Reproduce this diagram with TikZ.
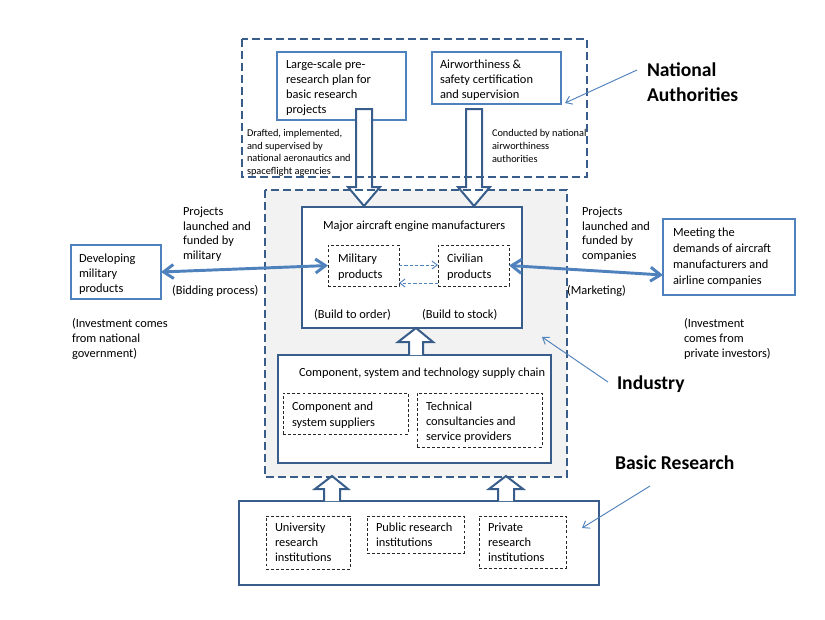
\documentclass[tikz,border=0pt]{standalone}
\usepackage{fontspec}
\setmainfont{Carlito}
\usetikzlibrary{arrows.meta}
\definecolor{mblue}{HTML}{4F81BD}
\definecolor{dblue}{HTML}{385D8A}
\definecolor{lgrey}{HTML}{F2F2F2}
\newcommand\fsk[1]{\fontsize{9.3}{#1}\selectfont}
\newcommand\fsmall{\fontsize{7.75}{9.4}\selectfont}
\newcommand\fhead{\bfseries\fontsize{14.7}{18.75}\selectfont}
\newcommand\bx[6][]{\node[#1,anchor=north west,inner sep=0pt,outer sep=0pt,minimum width={(#5-#3)*0.75pt},minimum height={(#6-#4)*0.75pt}] (#2) at (#3,#4) {};}
\begin{document}
\begin{tikzpicture}[x=0.75pt,y=-0.75pt,
  sbox/.style={draw=mblue,line width=1.5pt,fill=white},
  dbox/.style={draw=dblue,line width=1.5pt,fill=white},
  odash/.style={draw=dblue,line width=1.6pt,dash pattern=on 6pt off 3pt},
  ibox/.style={draw=black!85,line width=0.75pt,dash pattern=on 2.2pt off 1.6pt},
  hollow/.style={draw=dblue,line width=1.5pt,fill=white,line join=miter},
  txt/.style={anchor=base west,inner sep=0pt,outer sep=0pt,align=left},
  dbl/.style={draw=mblue,line width=2.2pt,{Straight Barb[length=7.5pt,width=10.5pt]}-{Straight Barb[length=7.5pt,width=10.5pt]}},
  ptr/.style={draw=mblue,line width=0.7pt,-{Straight Barb[length=4.5pt,width=6.5pt]}},
  dptr/.style={draw=mblue,line width=0.7pt,dash pattern=on 2.5pt off 1.5pt,-{Straight Barb[length=4pt,width=6pt]}}
]
\useasboundingbox[fill=white] (0,0) rectangle (825,619);

% industry background and national frame
\bx[fill=lgrey]{ind}{265}{190}{567}{477}
\bx[]{nat}{242}{39}{587}{177}

% solid boxes
\bx[sbox]{lsp}{277}{52}{406}{120}
\bx[sbox]{air}{432}{52}{561}{104}
\bx[dbox]{mfr}{302}{207}{522}{328}
\bx[dbox]{sup}{278}{355}{551}{463}
\bx[dbox]{res}{239}{501}{599}{585}
\bx[sbox]{dev}{71}{245}{161}{299}
\bx[sbox]{meet}{663}{219}{795}{295}

% inner dashed boxes
\bx[ibox]{mil}{328}{245}{399}{286}
\bx[ibox]{civ}{438}{245}{509}{286}
\bx[ibox]{comp}{283}{393}{408}{434}
\bx[ibox]{tech}{417}{393}{542}{447}
\bx[ibox]{uni}{266}{516}{350}{569}
\bx[ibox]{pub}{367}{516}{464}{553}
\bx[ibox]{priv}{479}{516}{566}{568}

% hollow block arrows
\draw[hollow] (356,109) -- (372,109) -- (372,187) -- (380,187) -- (364,206) -- (348,187) -- (356,187) -- cycle;
\draw[hollow] (466,109) -- (482,109) -- (482,187) -- (490,187) -- (474,206) -- (458,187) -- (466,187) -- cycle;
\draw[hollow] (409,355) -- (409,342) -- (398,342) -- (416,328) -- (433,342) -- (423,342) -- (423,355);
\draw[hollow] (324,501) -- (324,489) -- (315,489) -- (332,476) -- (348,489) -- (340,489) -- (340,501);
\draw[hollow] (498,501) -- (498,489) -- (489,489) -- (506,476) -- (523,489) -- (514,489) -- (514,501);

% dashed outer frames
\draw[odash] (nat.north west) rectangle (nat.south east);
\draw[odash] (ind.north west) rectangle (ind.south east);

% texts (anchor = baseline of the last line)
\node[txt,font=\fsk{11.25pt}] (tlsp) at (286,113) {Large-scale pre-\\research plan for\\basic research\\projects};
\node[txt,font=\fsk{11.25pt}] (tair) at (440,98) {Airworthiness \&\\safety certification\\and supervision};
\node[txt,font=\fsmall] (tdraft) at (247,174.5) {Drafted, implemented,\\and supervised by\\national aeronautics and\\spaceflight agencies};
\node[txt,font=\fsmall] (tcond) at (492,162) {Conducted by national\\airworthiness\\authorities};
\node[txt,font=\fsk{11.25pt}] (tmfr) at (323,229) {Major aircraft engine manufacturers};
\node[txt,font=\fsk{12pt}] (tmil) at (338,278) {Military\\products};
\node[txt,font=\fsk{12pt}] (tciv) at (447,278) {Civilian\\products};
\node[txt,font=\fsk{11.25pt}] (tbo) at (314,318) {(Build to order)};
\node[txt,font=\fsk{11.25pt}] (tbs) at (422,318) {(Build to stock)};
\node[txt,font=\fsk{11.25pt}] (tsup) at (299,376) {Component, system and technology supply chain};
\node[txt,font=\fsk{12pt}] (tcomp) at (292,426) {Component and\\system suppliers};
\node[txt,font=\fsk{11.25pt}] (ttech) at (426,440) {Technical\\consultancies and\\service providers};
\node[txt,font=\fsk{11.25pt}] (tdev) at (79,292) {Developing\\military\\products};
\node[txt,font=\fsk{10.8pt}] (tprojl) at (183,259) {Projects\\launched and\\funded by\\military};
\node[txt,font=\fsk{11.25pt}] (tbid) at (172,294) {(Bidding process)};
\node[txt,font=\fsk{11.25pt}] (tinvl) at (72,357) {(Investment comes\\from national\\government)};
\node[txt,font=\fsk{10.8pt}] (tprojr) at (582,259) {Projects\\launched and\\funded by\\companies};
\node[txt,font=\fsk{11.8pt}] (tmeet) at (673,284) {Meeting the\\demands of aircraft\\manufacturers and\\airline companies};
\node[txt,font=\fsk{11.25pt}] (tmark) at (567,294) {(Marketing)};
\node[txt,font=\fsk{11.25pt}] (tinvr) at (684,357) {(Investment\\comes from\\private investors)};
\node[txt,font=\fsk{11pt}] (tuni) at (275,561) {University\\research\\institutions};
\node[txt,font=\fsk{11pt}] (tpub) at (376,546.5) {Public research\\institutions};
\node[txt,font=\fsk{11pt}] (tpriv) at (488,561) {Private\\research\\institutions};
\node[txt,font=\fhead] (hnat) at (647,101) {National\\Authorities};
\node[txt,font=\fhead] (hind) at (617,389) {Industry};
\node[txt,font=\fhead] (hbas) at (615,469) {Basic Research};

% connectors
\draw[dbl] (dev.east) -- (mil.west);
\coordinate (meetin) at (663,275);
\draw[dbl] (civ.east) -- (meetin);
\coordinate (mtop) at (399,265);
\coordinate (ctop) at (438,265);
\coordinate (mbot) at (399,283);
\coordinate (cbot) at (438,283);
\draw[dptr] (mtop) -- (ctop);
\draw[dptr] (cbot) -- (mbot);

% pointers
\coordinate (pn1) at (637,70);  \coordinate (pn2) at (565,103);
\coordinate (pi1) at (608,382); \coordinate (pi2) at (542,337);
\coordinate (pb1) at (650,486); \coordinate (pb2) at (582,528);
\draw[ptr] (pn1) -- (pn2);
\draw[ptr] (pi1) -- (pi2);
\draw[ptr] (pb1) -- (pb2);
\end{tikzpicture}
\end{document}
